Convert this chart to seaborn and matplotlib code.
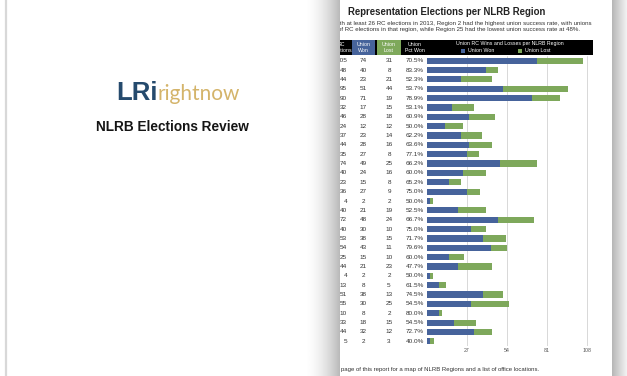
import numpy as np
import pandas as pd
import seaborn as sns
import matplotlib.pyplot as plt
from matplotlib import transforms
from matplotlib.patches import Rectangle

# NLRB regions (11, 23 and 30 are not in the table)
regions = [str(r) for r in list(range(1, 11)) + list(range(12, 23)) + list(range(24, 30)) + list(range(31, 35))]
won = [74, 40, 23, 51, 71, 17, 28, 12, 23, 28, 27, 49, 24, 15, 27, 2,
       21, 48, 30, 38, 43, 15, 21, 2, 8, 38, 30, 8, 18, 32, 2]
lost = [31, 8, 21, 44, 19, 15, 18, 12, 14, 16, 8, 25, 16, 8, 9, 2,
        19, 24, 10, 15, 11, 10, 23, 2, 5, 13, 25, 2, 15, 12, 3]
xticks = [27, 54, 81, 108]

df = pd.DataFrame({'region': regions, 'won': won, 'lost': lost})
df['total'] = df['won'] + df['lost']
df['pct'] = df['won'] / df['total'] * 100

BLUE = '#46639b'
GREEN = '#7ea85b'

sns.set_theme(style='white')
plt.rcParams['font.family'] = ['Liberation Sans', 'DejaVu Sans']

W, H = 627, 376
EDGE = 339  # where the left page covers the right one
fig = plt.figure(figsize=(W / 100, H / 100), dpi=100)
fig.patch.set_facecolor('white')

# page in pixel coordinates
page = fig.add_axes([0, 0, 1, 1])
page.set_xlim(0, W)
page.set_ylim(H, 0)
page.axis('off')

page.text(348, 12, 'Representation Elections per NLRB Region', fontsize=6.95,
          fontweight='bold', color='#222', va='center')
page.text(334, 23, 'with at least 26 RC elections in 2013, Region 2 had the highest union success rate, with unions',
          fontsize=4.4, color='#333', va='center')
page.text(338, 30, 'of RC elections in that region, while Region 25 had the lowest union success rate at 48%.',
          fontsize=4.4, color='#333', va='center')
page.text(341, 369, 'page of this report for a map of NLRB Regions and a list of office locations.',
          fontsize=4.3, color='#333', va='center')

# table header
page.add_patch(Rectangle((330, 40), 593 - 330, 15, color='black', lw=0))
page.add_patch(Rectangle((352, 40), 23, 15, color=BLUE, lw=0))
page.add_patch(Rectangle((377, 40), 24, 15, color=GREEN, lw=0))
hdr = dict(fontsize=3.8, color='white', ha='center', va='center', linespacing=1.3)
page.text(341, 47.5, 'RC\nElections', **hdr)
page.text(363.5, 47.5, 'Union\nWon', **hdr)
page.text(389, 47.5, 'Union\nLost', **hdr)
page.text(415, 47.5, 'Union\nPct Won', **hdr)
page.text(510, 44, 'Union RC Wins and Losses per NLRB Region', **hdr)
page.add_patch(Rectangle((461, 49), 4, 4, color=BLUE, lw=0))
page.add_patch(Rectangle((518, 49), 4, 4, color=GREEN, lw=0))
page.text(468, 51, 'Union Won', fontsize=3.8, color='white', va='center')
page.text(525, 51, 'Union Lost', fontsize=3.8, color='white', va='center')

# stacked bar chart
ax = fig.add_axes([427 / W, (H - 346) / H, 166 / W, 290 / H])
ax.patch.set_alpha(0)
sns.barplot(data=df, y='region', x='total', order=regions, orient='h', color=GREEN,
            saturation=1, width=0.66, errorbar=None, linewidth=0, ax=ax)
sns.barplot(data=df, y='region', x='won', order=regions, orient='h', color=BLUE,
            saturation=1, width=0.66, errorbar=None, linewidth=0, ax=ax)
ax.set_xlim(0, 112)
ax.set_ylim(len(regions) - 0.5, -0.5)
ax.set_xticks(xticks)
ax.set_yticks([])
ax.set_xlabel('')
ax.set_ylabel('')
ax.tick_params(axis='x', labelsize=3.8, colors='#555', length=0, pad=1.5)
ax.grid(axis='x', color='#d2d2d2', lw=0.6)
ax.set_axisbelow(True)
for s in ax.spines.values():
    s.set_visible(False)

# table values next to the bars
trans = transforms.blended_transform_factory(page.transData, ax.transData)
cell = dict(fontsize=4.6, color='#333', va='center', transform=trans, clip_on=False)
for i, row in df.iterrows():
    ax.text(347, i, f"{row['total']}", ha='right', **cell)
    ax.text(363.5, i, f"{row['won']}", ha='center', **cell)
    ax.text(389, i, f"{row['lost']}", ha='center', **cell)
    ax.text(415, i, f"{row['pct']:.1f}%", ha='center', **cell)

# left page lying on top, with its shadow edge
ov = fig.add_axes([0, 0, EDGE / W, 1])
ov.set_zorder(10)
ov.set_xlim(0, EDGE)
ov.set_ylim(H, 0)
ov.axis('off')
grad = np.ones(EDGE)
t = np.linspace(0, 1, 36)
grad[EDGE - 36:] = 1 - 0.27 * t ** 1.8
ov.imshow(grad[None, :], extent=[0, EDGE, H, 0], cmap='gray', vmin=0, vmax=1,
          aspect='auto', interpolation='bilinear')
ov.axvline(6, color='#d8d8d8', lw=1.6)
ov.text(158, 100, 'LRi', ha='right', va='baseline', fontsize=18.5, fontweight='heavy',
        color='#254a6d')
ov.text(157, 100, 'rightnow', ha='left', va='baseline', fontsize=15, color='#d4b46a',
        family=['Lato', 'DejaVu Sans'])
ov.text(172, 127, 'NLRB Elections Review', ha='center', va='center', fontsize=9.8,
        fontweight='bold', color='#151515')

# shadow on the right of the page
rs = fig.add_axes([612 / W, 0, 15 / W, 1])
rs.axis('off')
rgrad = np.linspace(0.66, 0.93, 15) ** 0.8
rs.imshow(rgrad[None, :], extent=[0, 15, H, 0], cmap='gray', vmin=0, vmax=1,
          aspect='auto', interpolation='bilinear')

fig.savefig('out.png', dpi=100)
